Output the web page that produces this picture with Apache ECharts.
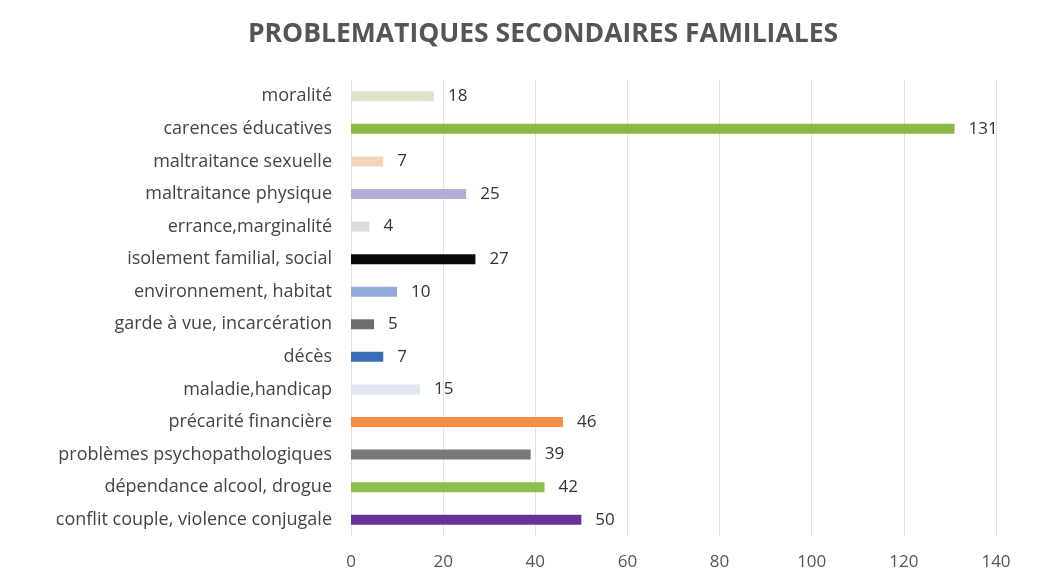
<!DOCTYPE html>
<html><head><meta charset="utf-8">
<script src="https://cdn.jsdelivr.net/npm/echarts@6/dist/echarts.min.js"></script>
<style>html,body{margin:0;padding:0;background:#fff}#c{width:1062px;height:574px}</style>
</head><body><div id="c"></div>
<script>
const categories = ["moralité","carences éducatives","maltraitance sexuelle","maltraitance physique","errance,marginalité","isolement familial, social","environnement, habitat","garde à vue, incarcération","décès","maladie,handicap","précarité financière","problèmes psychopathologiques","dépendance alcool, drogue","conflit couple, violence conjugale"];
const values = [18,131,7,25,4,27,10,5,7,15,46,39,42,50];
const colors = ["#dde6cc","#8cb847","#f3d6b8","#b7acd8","#dcdcdc","#0a0a0a","#93a8dc","#6e6e70","#3b6db5","#dfe8f3","#f58f45","#7a7a7a","#8fbf4a","#66339a"];
const xTicks = [0,20,40,60,80,100,120,140];

const chart = echarts.init(document.getElementById('c'));
chart.setOption({
  animation:false,
  title:{text:"PROBLEMATIQUES SECONDAIRES FAMILIALES",left:538,top:16,textAlign:'center',
    textStyle:{fontFamily:"Open Sans",fontWeight:'bold',fontSize:26.5,color:'#555'}},
  grid:{left:351,right:66,top:80,bottom:38,containLabel:false},
  xAxis:{type:'value',min:xTicks[0],max:xTicks[xTicks.length-1],interval:20,
    axisLine:{show:false},axisTick:{show:false},
    axisLabel:{color:'#555',fontFamily:"Open Sans",fontSize:17,margin:18},
    splitLine:{lineStyle:{color:'#e2e2e2',width:1}}},
  yAxis:{type:'category',data:categories,inverse:true,
    axisLine:{show:false},axisTick:{show:false},
    axisLabel:{color:'#444',fontFamily:"Open Sans",fontSize:18,margin:19}},
  series:[{type:'bar',data:values.map((v,i)=>({value:v,itemStyle:{color:colors[i]}})),
    barWidth:10,
    label:{show:true,position:'right',distance:14,color:'#333',fontFamily:"Open Sans",fontSize:17}}]
});
</script></body></html>
